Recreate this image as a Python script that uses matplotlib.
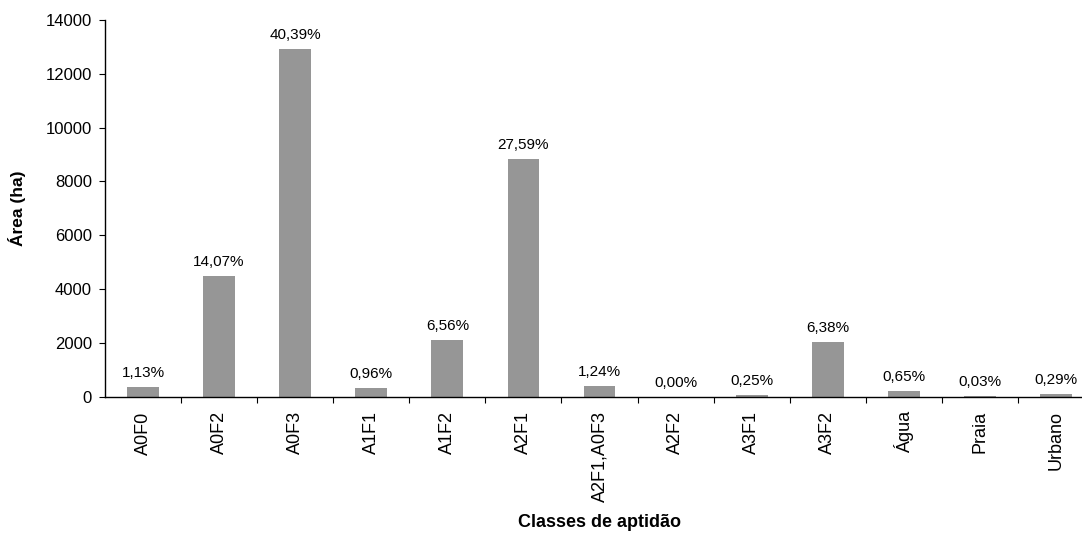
import numpy as np
import matplotlib
matplotlib.use("Agg")
import matplotlib.pyplot as plt

# Classes de aptidão e percentuais da área total
classes = ["A0F0", "A0F2", "A0F3", "A1F1", "A1F2", "A2F1", "A2F1,A0F3",
           "A2F2", "A3F1", "A3F2", "Água", "Praia", "Urbano"]
percentuais = [1.13, 14.07, 40.39, 0.96, 6.56, 27.59, 1.24,
               0.00, 0.25, 6.38, 0.65, 0.03, 0.29]
area_total = 31980  # ha

areas = [p / 100 * area_total for p in percentuais]

plt.rcParams["font.family"] = ["Liberation Sans", "DejaVu Sans"]

fig = plt.figure(figsize=(10.82, 5.34), dpi=100)
# o eixo x continua um pouco além da borda direita
ax = fig.add_axes([0.097, 0.2571, 0.9141, 0.7054])
ax.set_clip_on(False)

x = np.arange(len(classes))
ax.bar(x, areas, width=0.417, color="#969696", zorder=2)

for xi, a, p in zip(x, areas, percentuais):
    rotulo = "{:.2f}%".format(p).replace(".", ",")
    ax.annotate(rotulo, (xi, a), xytext=(0, 7.2), textcoords="offset points",
                ha="center", va="baseline", fontsize=11)

ax.set_xlim(-0.5, len(classes) - 0.5)
ax.set_ylim(0, 14000)
ax.set_yticks(range(0, 14001, 2000))
ax.tick_params(axis="y", labelsize=12, length=4.5, width=0.8, pad=5, direction="out")

# marcas do eixo x entre as categorias, rótulos no centro
ax.set_xticks(x)
ax.set_xticklabels(classes, rotation=90, fontsize=13)
ax.tick_params(axis="x", which="major", length=0, pad=10.5)
ax.set_xticks(np.arange(0.5, len(classes) - 0.5, 1), minor=True)
ax.tick_params(axis="x", which="minor", length=4.5, width=0.8, direction="out")

ax.spines["top"].set_visible(False)
ax.spines["right"].set_visible(False)
ax.spines["left"].set_linewidth(1.0)
ax.spines["bottom"].set_linewidth(1.0)

ax.set_ylabel("Área (ha)", fontsize=12.5, fontweight="bold", va="center")
ax.yaxis.set_label_coords(0.0157, 0.61, transform=fig.transFigure)
ax.set_xlabel("Classes de aptidão", fontsize=13, fontweight="bold", va="center")
ax.xaxis.set_label_coords(0.554, 0.0206, transform=fig.transFigure)

plt.savefig("out.png", dpi=100)
